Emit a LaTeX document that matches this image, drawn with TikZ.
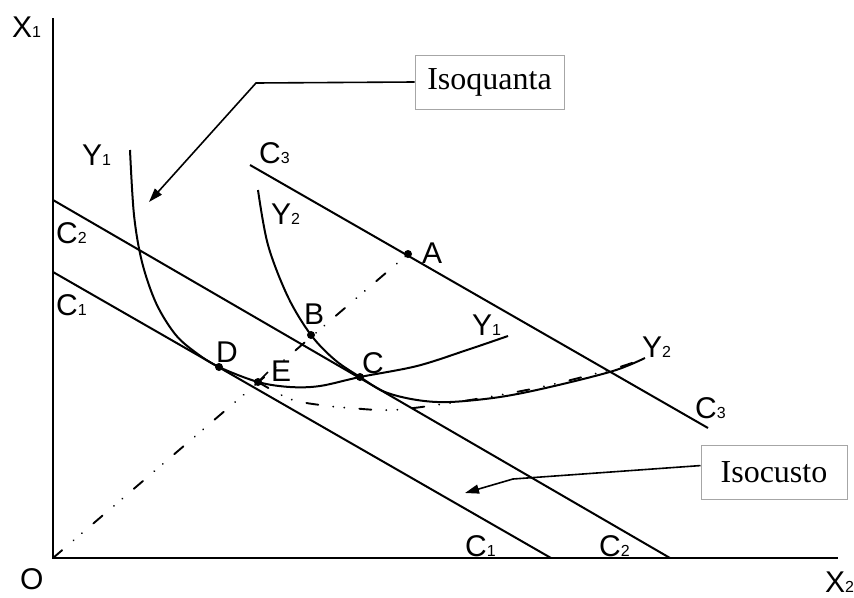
\documentclass[tikz,border=0pt]{standalone}
\usepackage{fontspec}
\setmainfont{Liberation Serif}
\newfontfamily\labfont{Liberation Sans}
\usetikzlibrary{arrows.meta}
\newcommand{\lbl}[2]{#1{\fontsize{16}{16}\selectfont #2}}
\begin{document}
\begin{tikzpicture}[x=1pt,y=-1pt,
  axis/.style={line width=2.2pt},
  cline/.style={line width=2pt},
  curve/.style={line width=2pt},
  exppath/.style={line width=1.9pt, line cap=round, dash pattern=on 12pt off 15pt on 0.1pt off 11pt on 0.1pt off 15pt},
  pt/.style={circle, fill=black, inner sep=0pt, minimum size=8pt},
  lab/.style={anchor=base west, inner sep=0pt, font=\labfont\fontsize{30}{30}\selectfont},
  callout/.style={draw=gray!70, line width=1pt, font=\fontsize{32}{32}\selectfont, minimum width=149pt, minimum height=54pt, inner sep=0pt},
  leader/.style={line width=1.6pt, -{Triangle[length=14pt,width=9pt]}}
]
\useasboundingbox (0,0) rectangle (854,597);
% axes
\coordinate (O) at (53,558);
\coordinate (ytop) at (53,18);
\coordinate (xend) at (838,558);
\draw[axis] (ytop) -- (O) -- (xend);
% cost lines
\coordinate (c1a) at (53,272); \coordinate (c1b) at (551,558);
\coordinate (c2a) at (53,200); \coordinate (c2b) at (670,558);
\coordinate (c3a) at (250,165); \coordinate (c3b) at (708,428);
\draw[cline] (c1a) -- (c1b);
\draw[cline] (c2a) -- (c2b);
\draw[cline] (c3a) -- (c3b);
% points
\node[pt] (A) at (408,254) {};
\node[pt] (B) at (311,335) {};
\node[pt] (C) at (360,377) {};
\node[pt] (D) at (219,367) {};
\node[pt] (E) at (258,382) {};
% isoquants
\draw[curve] plot[smooth, tension=0.55] coordinates {(130,150) (134,215) (142,262) (156,303) (175,334) (195,352) (219,367) (258,382) (290,387) (320,386) (360,377) (417,366) (467,350) (508,336)};
\draw[curve] plot[smooth, tension=0.55] coordinates {(258,190) (268,245) (288,297) (311,335) (335,360) (360,377) (385,392) (417,400) (450,402) (500,397) (550,387) (613,371) (645,358)};
% expansion paths
\draw[exppath] (O) -- (A.center);
\draw[exppath] plot[smooth, tension=0.55] coordinates {(258,382) (290,399) (320,405) (350,408) (393,410) (450,403) (500,395) (550,385) (613,369) (640,360)};
% E tick
\coordinate (et) at (268,372);
\draw[line width=1.5pt] (E.center) -- (et);
% labels
\node[lab] (lX1) at (12,37) {\lbl{X}{1}};
\node[lab] (lO) at (20,589) {O};
\node[lab] (lX2) at (825,592) {\lbl{X}{2}};
\node[lab] (lY1a) at (82,165) {\lbl{Y}{1}};
\node[lab] (lC2a) at (56,243) {\lbl{C}{2}};
\node[lab] (lC1a) at (56,315) {\lbl{C}{1}};
\node[lab] (lC3a) at (259,163) {\lbl{C}{3}};
\node[lab] (lY2a) at (271,224) {\lbl{Y}{2}};
\node[lab] (lA) at (422,263) {A};
\node[lab] (lB) at (304,324) {B};
\node[lab] (lD) at (216,362) {D};
\node[lab] (lE) at (271,381) {E};
\node[lab] (lC) at (362,373) {C};
\node[lab] (lY1b) at (472,335) {\lbl{Y}{1}};
\node[lab] (lY2b) at (642,357) {\lbl{Y}{2}};
\node[lab] (lC3b) at (695,418) {\lbl{C}{3}};
\node[lab] (lC1b) at (465,556) {\lbl{C}{1}};
\node[lab] (lC2b) at (599,556) {\lbl{C}{2}};
% callouts
\node[callout] (isoq) at (489.5,82) {Isoquanta};
\node[callout, minimum width=146pt] (isoc) at (774,472) {Isocusto};
\coordinate (q1) at (256,83); \coordinate (q2) at (149,202);
\draw[leader] (isoq.west) -- (q1) -- (q2);
\coordinate (k1) at (513,479); \coordinate (k2) at (465,493);
\draw[leader] (isoc.175) -- (k1) -- (k2);
\end{tikzpicture}
\end{document}
